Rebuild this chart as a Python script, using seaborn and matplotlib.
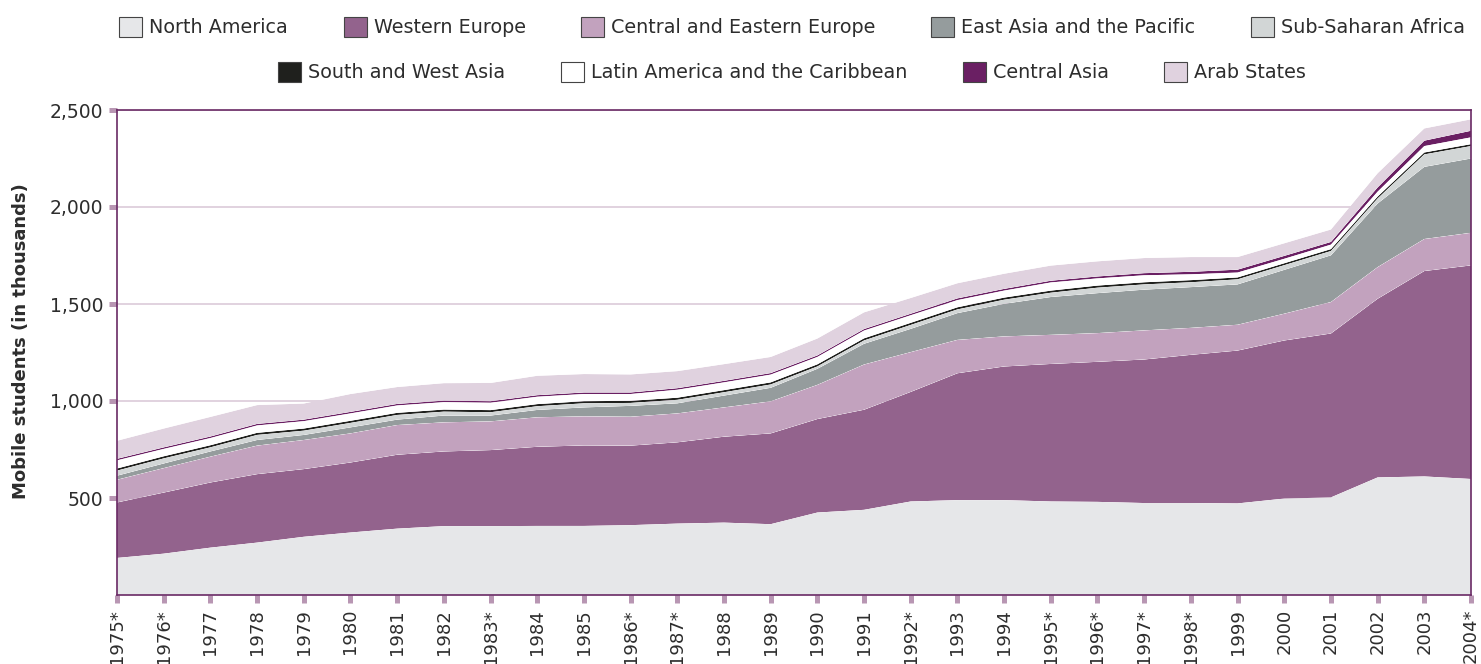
import pandas as pd
import seaborn as sns
import seaborn.objects as so
import matplotlib.pyplot as plt
from matplotlib.patches import Patch

# year labels (* = estimate)
years = ['1975*', '1976*', '1977', '1978', '1979', '1980', '1981', '1982', '1983*', '1984',
         '1985', '1986*', '1987*', '1988', '1989', '1990', '1991', '1992*', '1993', '1994',
         '1995*', '1996*', '1997*', '1998*', '1999', '2000', '2001', '2002', '2003', '2004*']

# mobile students by region of origin, thousands (stacked bottom -> top)
north_america = [191, 213, 244, 270, 300, 322, 342, 355, 355, 356, 356, 360, 368, 373, 365,
                 425, 439, 482, 489, 489, 482, 480, 474, 474, 472, 497, 503, 606, 611, 598]
western_europe = [286, 315, 336, 353, 349, 361, 381, 385, 392, 408, 415, 410, 419, 443, 468,
                  482, 516, 565, 654, 689, 709, 722, 740, 764, 788, 815, 845, 921, 1059, 1101]
central_eastern_europe = [117, 126, 133, 147, 150, 150, 153, 150, 148, 152, 150, 149, 149, 151, 165,
                          176, 233, 205, 172, 155, 150, 148, 150, 139, 133, 138, 162, 163, 165, 168]
east_asia_pacific = [21, 24, 27, 29, 26, 31, 28, 35, 30, 38, 46, 56, 52, 61, 70,
                     83, 107, 120, 138, 168, 195, 206, 210, 210, 208, 226, 241, 328, 372, 383]
sub_saharan_africa = [26, 26, 21, 26, 22, 23, 24, 20, 17, 19, 21, 15, 18, 17, 17,
                      12, 17, 20, 19, 21, 22, 28, 27, 25, 26, 24, 22, 26, 64, 64]
south_west_asia = [11, 11, 11, 11, 11, 11, 11, 11, 11, 11, 11, 11, 11, 11, 11,
                   11, 11, 11, 11, 11, 11, 11, 11, 11, 10, 10, 10, 10, 10, 10]
latin_america = [42, 38, 37, 38, 38, 38, 38, 38, 38, 38, 37, 35, 41, 40, 40,
                 38, 40, 39, 37, 36, 42, 37, 36, 30, 25, 23, 23, 25, 33, 35]
central_asia = [8, 8, 8, 8, 8, 8, 8, 8, 8, 8, 8, 8, 8, 8, 8,
                8, 8, 8, 9, 9, 9, 10, 11, 13, 15, 15, 14, 22, 28, 34]
arab_states = [93, 97, 101, 97, 83, 92, 87, 90, 94, 100, 95, 93, 88, 86, 83,
               87, 86, 81, 78, 78, 78, 78, 78, 76, 65, 65, 64, 73, 63, 59]

regions = ['North America', 'Western Europe', 'Central and Eastern Europe',
           'East Asia and the Pacific', 'Sub-Saharan Africa', 'South and West Asia',
           'Latin America and the Caribbean', 'Central Asia', 'Arab States']
colors = ['#e6e7e9', '#93638d', '#c2a2be', '#959c9d', '#d2d6d6',
          '#1f201d', '#ffffff', '#6a1f63', '#e0d2df']
series = [north_america, western_europe, central_eastern_europe, east_asia_pacific,
          sub_saharan_africa, south_west_asia, latin_america, central_asia, arab_states]

# long table, region-major so the stack goes in legend order
rows = []
for name, vals in zip(regions, series):
    for i, v in enumerate(vals):
        rows.append({'idx': i, 'students': v, 'region': name})
df = pd.DataFrame(rows)

sns.set_theme(style='white')
plt.rcParams['font.family'] = ['DejaVu Sans']

fig = plt.figure(figsize=(14.81, 6.64), dpi=100)
ax = fig.add_axes([117 / 1481, 1 - 595 / 664, (1471 - 117) / 1481, (595 - 110) / 664])

(
    so.Plot(df, x='idx', y='students', color='region')
    .add(so.Area(alpha=1, edgewidth=0), so.Stack(), legend=False)
    .scale(color=so.Nominal(dict(zip(regions, colors)), order=regions))
    .theme(sns.axes_style('white'))
    .on(ax)
    .plot()
)

ax.set_xlim(0, len(years) - 1)
ax.set_ylim(0, 2500)
ax.set_xticks(range(len(years)))
ax.set_xticklabels(years, rotation=90)
ax.set_yticks([500, 1000, 1500, 2000, 2500])
ax.set_yticklabels(['500', '1,000', '1,500', '2,000', '2,500'])
ax.yaxis.grid(True, color='#dccbd9', linewidth=1.2)
ax.xaxis.grid(False)
ax.set_axisbelow(True)

ax.tick_params(axis='both', direction='out', length=6, width=3.6, color='#b896b3',
               labelcolor='#2d2d2d', labelsize=13, pad=4, bottom=True, left=True)
ax.tick_params(axis='y', labelsize=13.5)
for s in ax.spines.values():
    s.set_visible(True)
    s.set_color('#6a2a65')
    s.set_linewidth(1.2)
    s.set_zorder(3)

ax.set_xlabel('')
ax.set_ylabel('Mobile students (in thousands)', fontsize=13, fontweight='bold', color='#2d2d2d')
ax.yaxis.set_label_coords(-0.064, 0.524)

# legend in two centred rows
handles = [Patch(facecolor=c, edgecolor='#444444', linewidth=0.8) for c in colors]
leg_kw = dict(loc='center', frameon=False, fontsize=13.8, handlelength=1.2, handleheight=1.2,
              handletextpad=0.36, columnspacing=2.9, borderpad=0, labelcolor='#2d2d2d')
fig.legend(handles[:5], regions[:5], ncol=5, bbox_to_anchor=(792 / 1481, 1 - 27 / 664), **leg_kw)
fig.legend(handles[5:], regions[5:], ncol=4, bbox_to_anchor=(792 / 1481, 1 - 72 / 664), **leg_kw)

fig.savefig('out.png', dpi=100, facecolor='white')
